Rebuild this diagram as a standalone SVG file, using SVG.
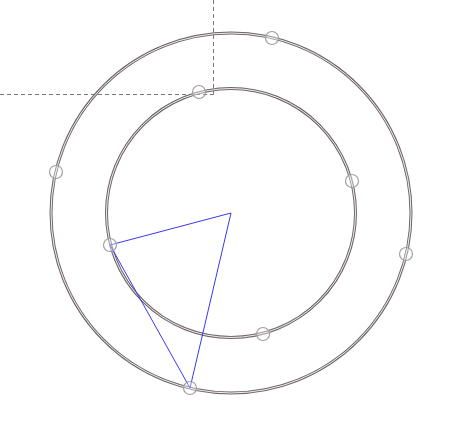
<svg xmlns="http://www.w3.org/2000/svg" width="471" height="421" viewBox="0 0 471 421">
<style>
.ring{fill:none;stroke:#6f6666;stroke-width:3}
.ringin{fill:none;stroke:#ffffff;stroke-width:0.9}
.dash{stroke:#777;stroke-width:1;stroke-dasharray:4 3;fill:none}
.tri{fill:none;stroke:#3838f0;stroke-width:1}
.h{fill:#ffffff;fill-opacity:0.35;stroke:#a0a0a0;stroke-width:1.2}
</style>
<rect width="471" height="421" fill="#fff"/>
<g id="guides">
<line class="dash" x1="213.5" y1="0" x2="213.5" y2="94.5"/>
<line class="dash" x1="0" y1="94.5" x2="213.5" y2="94.5"/>
</g>
<g id="outer-circle">
<circle class="ring" cx="231" cy="213" r="180"/>
<circle class="ringin" cx="231" cy="213" r="180"/>
</g>
<g id="inner-circle">
<circle class="ring" cx="231" cy="213" r="124.5"/>
<circle class="ringin" cx="231" cy="213" r="124.5"/>
</g>
<g id="connectors">
<polyline class="tri" points="231,213 110,245 190,388 231,213"/>
</g>
<g id="handles">
<circle class="h" cx="272" cy="38" r="6.5"/>
<circle class="h" cx="199" cy="92" r="6.5"/>
<circle class="h" cx="56" cy="172" r="6.5"/>
<circle class="h" cx="110" cy="245" r="6.5"/>
<circle class="h" cx="190" cy="388" r="6.5"/>
<circle class="h" cx="263" cy="334" r="6.5"/>
<circle class="h" cx="352" cy="181" r="6.5"/>
<circle class="h" cx="406" cy="254" r="6.5"/>
</g>
</svg>
